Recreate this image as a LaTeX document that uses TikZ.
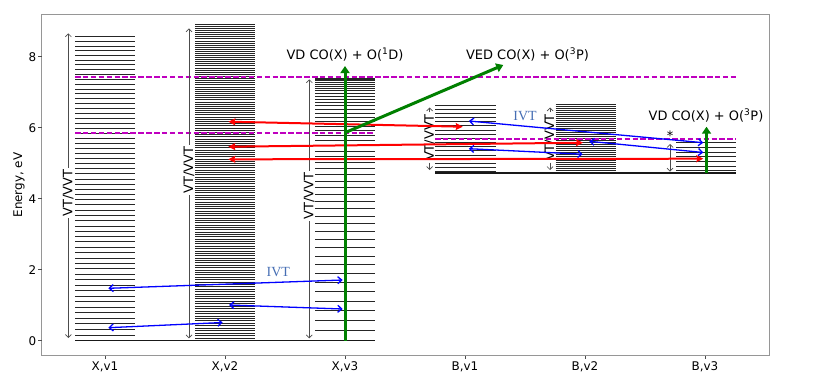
\documentclass[tikz,border=0pt]{standalone}
\usepackage{fontspec}
\setmainfont{DejaVu Sans}
\newfontfamily\ivtfont{Liberation Serif}
\usetikzlibrary{arrows.meta}
\definecolor{mplmag}{RGB}{191,0,191}
\definecolor{mplgreen}{RGB}{0,128,0}
\definecolor{ivtblue}{RGB}{70,110,180}
\definecolor{spine}{RGB}{150,150,150}
\begin{document}
\begin{tikzpicture}[x=1bp,y=-1bp,
  lev/.style={black!85,line width=0.9bp},
  base/.style={black!90,line width=1.2bp},
  lim/.style={mplmag,line width=2bp,dash pattern=on 5.5bp off 2.4bp},
  vtarr/.style={black!70,line width=0.7bp,-{Straight Barb[length=3bp,width=6bp]}},
  vtdbl/.style={black!70,line width=0.7bp,{Straight Barb[length=3bp,width=6bp]}-{Straight Barb[length=3bp,width=6bp]}},
  vtlab/.style={rotate=90,font=\fontsize{13}{13}\selectfont,inner sep=1.5bp},
  redarr/.style={red,line width=2bp,{Stealth[length=7bp,width=7bp,inset=1bp]}-{Stealth[length=7bp,width=7bp,inset=1bp]}},
  bluearr/.style={blue,line width=1.3bp,{Straight Barb[length=4bp,width=7bp]}-{Straight Barb[length=4bp,width=7bp]}},
  greenarr/.style={mplgreen,line width=3bp,-{Triangle[length=7bp,width=9bp]}},
  ann/.style={font=\fontsize{13}{13}\selectfont,anchor=base,inner sep=0pt},
  ivt/.style={font=\ivtfont\fontsize{14}{14}\selectfont,text=ivtblue,anchor=base,inner sep=0pt},
  ticklab/.style={font=\fontsize{12}{12}\selectfont,inner sep=0pt},
  tickmark/.style={black!70,line width=0.8bp}
]
\useasboundingbox (0,0) rectangle (831,387);

% frame
\draw[spine,line width=1bp] (41.5,14) rectangle (769,355.5);
% y ticks
\foreach \v/\yy in {0/340.7,2/269.7,4/198.7,6/127.7,8/56.7}{
  \draw[tickmark] (38,\yy) -- (41.5,\yy);
  \node[ticklab,anchor=east] (yt\v) at (36.5,\yy) {\v};
}
% x ticks
\foreach \i/\lab in {0/{X,v1},1/{X,v2},2/{X,v3},3/{B,v1},4/{B,v2},5/{B,v3}}{
  \draw[tickmark] ({105+120*\i},355.5) -- ({105+120*\i},359);
  \node[ticklab,anchor=base] (xt\i) at ({105+120*\i},370.4) {\lab};
}
\node[ticklab,rotate=90] (ylab) at (19,185) {Energy, eV};

% level stacks
\foreach \n in {1,...,59}{
  \pgfmathsetmacro\yy{340.7-35.5*(0.1587*\n-0.000236*\n*\n)}
  \draw[lev] (75,\yy) -- (135,\yy);
}
\foreach \n in {1,...,140}{
  \pgfmathsetmacro\yy{340.7-35.5*(0.07*\n-0.000051*\n*\n)}
  \draw[lev] (195,\yy) -- (255,\yy);
}
\foreach \n in {1,...,46}{
  \pgfmathsetmacro\yy{340.7-35.5*(0.29*\n-0.0028*\n*\n)}
  \draw[lev] (315,\yy) -- (375,\yy);
}
\foreach \k in {0,...,16}{
  \pgfmathsetmacro\yy{340.7-35.5*(4.76+0.1175*\k)}
  \draw[lev] (435,\yy) -- (496,\yy);
}
\foreach \k in {0,...,34}{
  \pgfmathsetmacro\yy{340.7-35.5*(4.75+0.056*\k)}
  \draw[lev] (555.5,\yy) -- (616,\yy);
}
\foreach \k in {0,...,6}{
  \pgfmathsetmacro\yy{340.7-35.5*(4.79+0.1317*\k)}
  \draw[lev] (676,\yy) -- (736,\yy);
}
% baselines
\draw[base] (75,340.7) -- (375,340.7);
\draw[base] (435,173) -- (736,173);

% dissociation limits
\draw[lim] (75,77) -- (736,77);
\draw[lim] (75,133) -- (375,133);
\draw[lim] (435,139) -- (736,139);

% VT/VVT annotations
\node[vtlab] (vt1) at (68.3,193) {VT/VVT};
\coordinate (vt1u) at (68.3,33.3); \coordinate (vt1d) at (68.3,338);
\draw[vtarr] (vt1) -- (vt1u); \draw[vtarr] (vt1) -- (vt1d);
\node[vtlab] (vt2) at (189,170) {VT/VVT};
\coordinate (vt2u) at (189,28.3); \coordinate (vt2d) at (189,338.3);
\draw[vtarr] (vt2) -- (vt2u); \draw[vtarr] (vt2) -- (vt2d);
\node[vtlab] (vt3) at (309.3,196) {VT/VVT};
\coordinate (vt3u) at (309.3,79.3); \coordinate (vt3d) at (309.3,338.3);
\draw[vtarr] (vt3) -- (vt3u); \draw[vtarr] (vt3) -- (vt3d);
\node[vtlab] (vt4) at (429.7,137.5) {VT/VVT};
\coordinate (vt4u) at (429.7,107.5); \coordinate (vt4d) at (429.7,170);
\draw[vtarr] (vt4) -- (vt4u); \draw[vtarr] (vt4) -- (vt4d);
\node[vtlab] (vt5) at (550,137.5) {VT/VVT};
\coordinate (vt5u) at (550,107.5); \coordinate (vt5d) at (550,170);
\draw[vtarr] (vt5) -- (vt5u); \draw[vtarr] (vt5) -- (vt5d);
\node[ann] (star) at (670,140) {*};
\coordinate (s6u) at (670,144); \coordinate (s6d) at (670,171.7);
\draw[vtdbl] (s6u) -- (s6d);

% red arrows (VT/VVT between states)
\coordinate (r1a) at (228.3,121.7); \coordinate (r1b) at (462.7,126.7);
\coordinate (r2a) at (228.3,146.7); \coordinate (r2b) at (583,142.7);
\coordinate (r3a) at (228.3,159.3); \coordinate (r3b) at (703.3,158.7);
\draw[redarr] (r1a) -- (r1b);
\draw[redarr] (r2a) -- (r2b);
\draw[redarr] (r3a) -- (r3b);

% blue arrows (IVT)
\coordinate (bA1) at (468.8,121);  \coordinate (bA2) at (703.3,142.7);
\coordinate (bB1) at (589.3,141.3); \coordinate (bB2) at (703.3,152.5);
\coordinate (bC1) at (468.8,148.7); \coordinate (bC2) at (582.7,154.2);
\coordinate (bD1) at (108.3,288.3); \coordinate (bD2) at (342.7,280);
\coordinate (bE1) at (229,305);    \coordinate (bE2) at (342.7,309);
\coordinate (bF1) at (108.3,327.7); \coordinate (bF2) at (222.7,322.5);
\draw[bluearr] (bA1) -- (bA2);
\draw[bluearr] (bB1) -- (bB2);
\draw[bluearr] (bC1) -- (bC2);
\draw[bluearr] (bD1) -- (bD2);
\draw[bluearr] (bE1) -- (bE2);
\draw[bluearr] (bF1) -- (bF2);
\node[ivt] (ivt1) at (525,120) {IVT};
\node[ivt] (ivt2) at (278.3,276.7) {IVT};

% green arrows (dissociation)
\coordinate (g1a) at (345,340.7); \coordinate (g1b) at (345,66);
\coordinate (g2a) at (345,132.7); \coordinate (g2b) at (503.3,65);
\coordinate (g3a) at (706.5,172.7); \coordinate (g3b) at (706.5,126.7);
\draw[greenarr] (g1a) -- (g1b);
\draw[greenarr] (g2a) -- (g2b);
\draw[greenarr] (g3a) -- (g3b);

% channel labels
\node[ann] (vd1) at (345,59.3) {VD CO(X) + O(\textsuperscript{1}D)};
\node[ann] (ved) at (527.5,59.3) {VED CO(X) + O(\textsuperscript{3}P)};
\node[ann] (vd3) at (706,120) {VD CO(X) + O(\textsuperscript{3}P)};
\end{tikzpicture}
\end{document}
